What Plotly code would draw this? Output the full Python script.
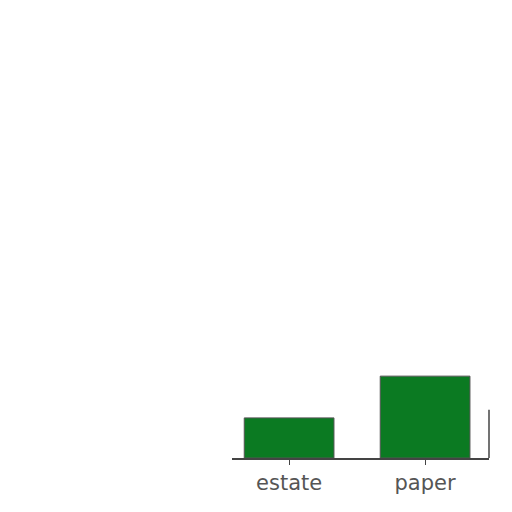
import plotly.graph_objects as go

# Bar data
categories = ["estate", "paper"]
values = [0.98, 2.0]

fig = go.Figure()

fig.add_trace(go.Bar(
    x=categories,
    y=values,
    width=0.66,
    marker=dict(color="#0b7a22", line=dict(color="#555555", width=1)),
))

fig.update_layout(
    width=512,
    height=512,
    margin=dict(l=224, r=31, t=12, b=62),
    plot_bgcolor="white",
    paper_bgcolor="white",
    showlegend=False,
    font=dict(family="DejaVu Sans", size=21, color="#555555"),
    xaxis=dict(
        range=[-0.42, 1.47],
        showline=True,
        linecolor="#444444",
        linewidth=1.5,
        ticks="outside",
        ticklen=5,
        tickcolor="#444444",
        showgrid=False,
    ),
    yaxis=dict(
        range=[0, 10.7],
        visible=False,
        showgrid=False,
        zeroline=False,
    ),
    # short frame line on the right edge
    shapes=[dict(
        type="line", xref="paper", yref="paper",
        x0=1, x1=1, y0=0, y1=0.11,
        line=dict(color="#444444", width=1.5),
    )],
)

fig.write_html("out.html")
